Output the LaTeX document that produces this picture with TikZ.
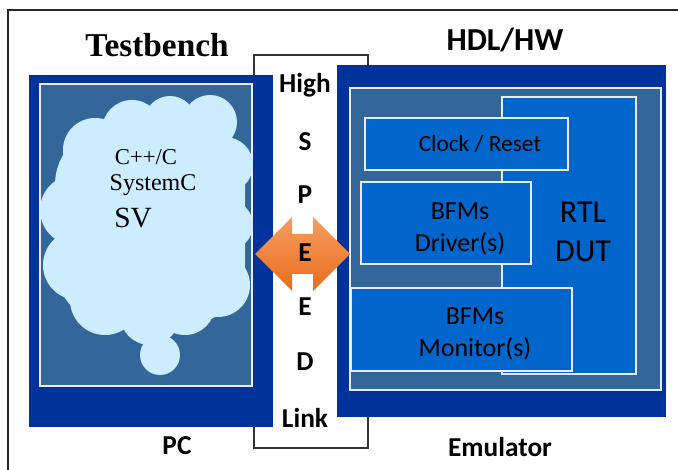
\documentclass[tikz,border=0pt]{standalone}
\usepackage{fontspec}
\setmainfont{Carlito}
\newfontfamily\tbserif{Liberation Serif}
\usetikzlibrary{positioning,fit}

\definecolor{panelblue}{RGB}{0,51,153}
\definecolor{steelblue}{RGB}{51,102,153}
\definecolor{blockblue}{RGB}{0,102,204}
\definecolor{cloudblue}{RGB}{204,236,255}
\definecolor{arrowtop}{RGB}{246,158,96}
\definecolor{arrowbot}{RGB}{234,108,28}

\begin{document}
\begin{tikzpicture}[
  x=0.75pt, y=-0.75pt,
  panel/.style ={fill=panelblue, inner sep=0pt, line width=0pt},
  inner/.style ={fill=steelblue, draw=white!92!blue, line width=1.2pt, inner sep=0pt},
  block/.style ={fill=blockblue, draw=white!92!blue, line width=1.2pt, inner sep=0pt},
  title/.style ={font=\bfseries\fontsize{24}{28}\selectfont},
  letter/.style={font=\bfseries\fontsize{20.5}{24}\selectfont},
  blocktxt/.style={align=center, font=\fontsize{19.5}{24}\selectfont},
]
\useasboundingbox (0,0) rectangle (678,470);
\fill[white] (0,0) rectangle (678,470);

% frame of the slide
\draw[line width=1.5pt, black!85] (678,10) -- (8,10) -- (8,470);

% ======================= link box =======================
\node[draw=black!80, line width=1.2pt, inner sep=0pt, fit={(254,55) (368,448)}] (linkbox) {};

% ======================= PC side =======================
\node[panel, fit={(29,75) (273,427)}] (pc) {};
\node[inner, fit={(40,84) (252,386)}] (pcin) {};

% cloud
\fill[cloudblue, rounded corners=45] (55,125) rectangle (245,325);
\foreach \cx/\cy/\r in {95/150/32, 132/130/30, 170/122/26, 210/122/27, 225/165/28,
                        228/225/25, 218/285/32, 75/210/35, 78/265/35, 105/300/35,
                        150/315/30, 185/305/30, 160/355/20}
  \fill[cloudblue] (\cx,\cy) circle [radius=\r];

\node[font=\tbserif\fontsize{17}{20}\selectfont] (cpp) at (146,157) {C++/C};
\node[font=\tbserif\fontsize{18}{21}\selectfont] (sysc) at (153,185) {SystemC};
\node[font=\tbserif\fontsize{22}{26}\selectfont] (sv) at (133,218) {SV};

\node[title, font=\tbserif\bfseries\fontsize{25}{28}\selectfont] (tb) at (157,45) {Testbench};
\node[letter] (pclbl) at (177,446) {PC};

% ======================= Emulator side =======================
\node[panel, fit={(337,65) (666,417)}] (emu) {};
\node[inner, fit={(350,88) (661,390)}] (emuin) {};
\node[block, fit={(502,97) (636,374)}] (rtl) {};
\node[block, fit={(365,118) (568,170)}] (clk) {};
\node[block, fit={(361,182) (531,264)}] (drv) {};
\node[block, fit={(351,288) (572,371)}] (mon) {};

\node[font=\fontsize{17.5}{21}\selectfont] (clktxt) at (480,144) {Clock / Reset};
\node[blocktxt] (drvtxt) at (460,229) {BFMs\\Driver(s)};
\node[blocktxt] (montxt) at (475,334) {BFMs\\Monitor(s)};
\node[align=center, font=\fontsize{24}{29}\selectfont] (rtltxt) at (583,232) {RTL\\DUT};

\node[title] (hdl) at (505,40) {HDL/HW};
\node[letter] (emulbl) at (500,447) {Emulator};

% ======================= link arrow and letters =======================
\shade[top color=arrowtop, bottom color=arrowbot]
  (255,254) -- (292,217) -- (292,234) -- (313,234) -- (313,217) -- (350,254)
  -- (313,291) -- (313,274) -- (292,274) -- (292,291) -- cycle;

\foreach \txt/\yy [count=\i] in {High/85, S/142, P/195, E/253, E/307, D/362, Link/418}
  \node[letter] (l\i) at (305,\yy) {\txt};

\end{tikzpicture}
\end{document}
